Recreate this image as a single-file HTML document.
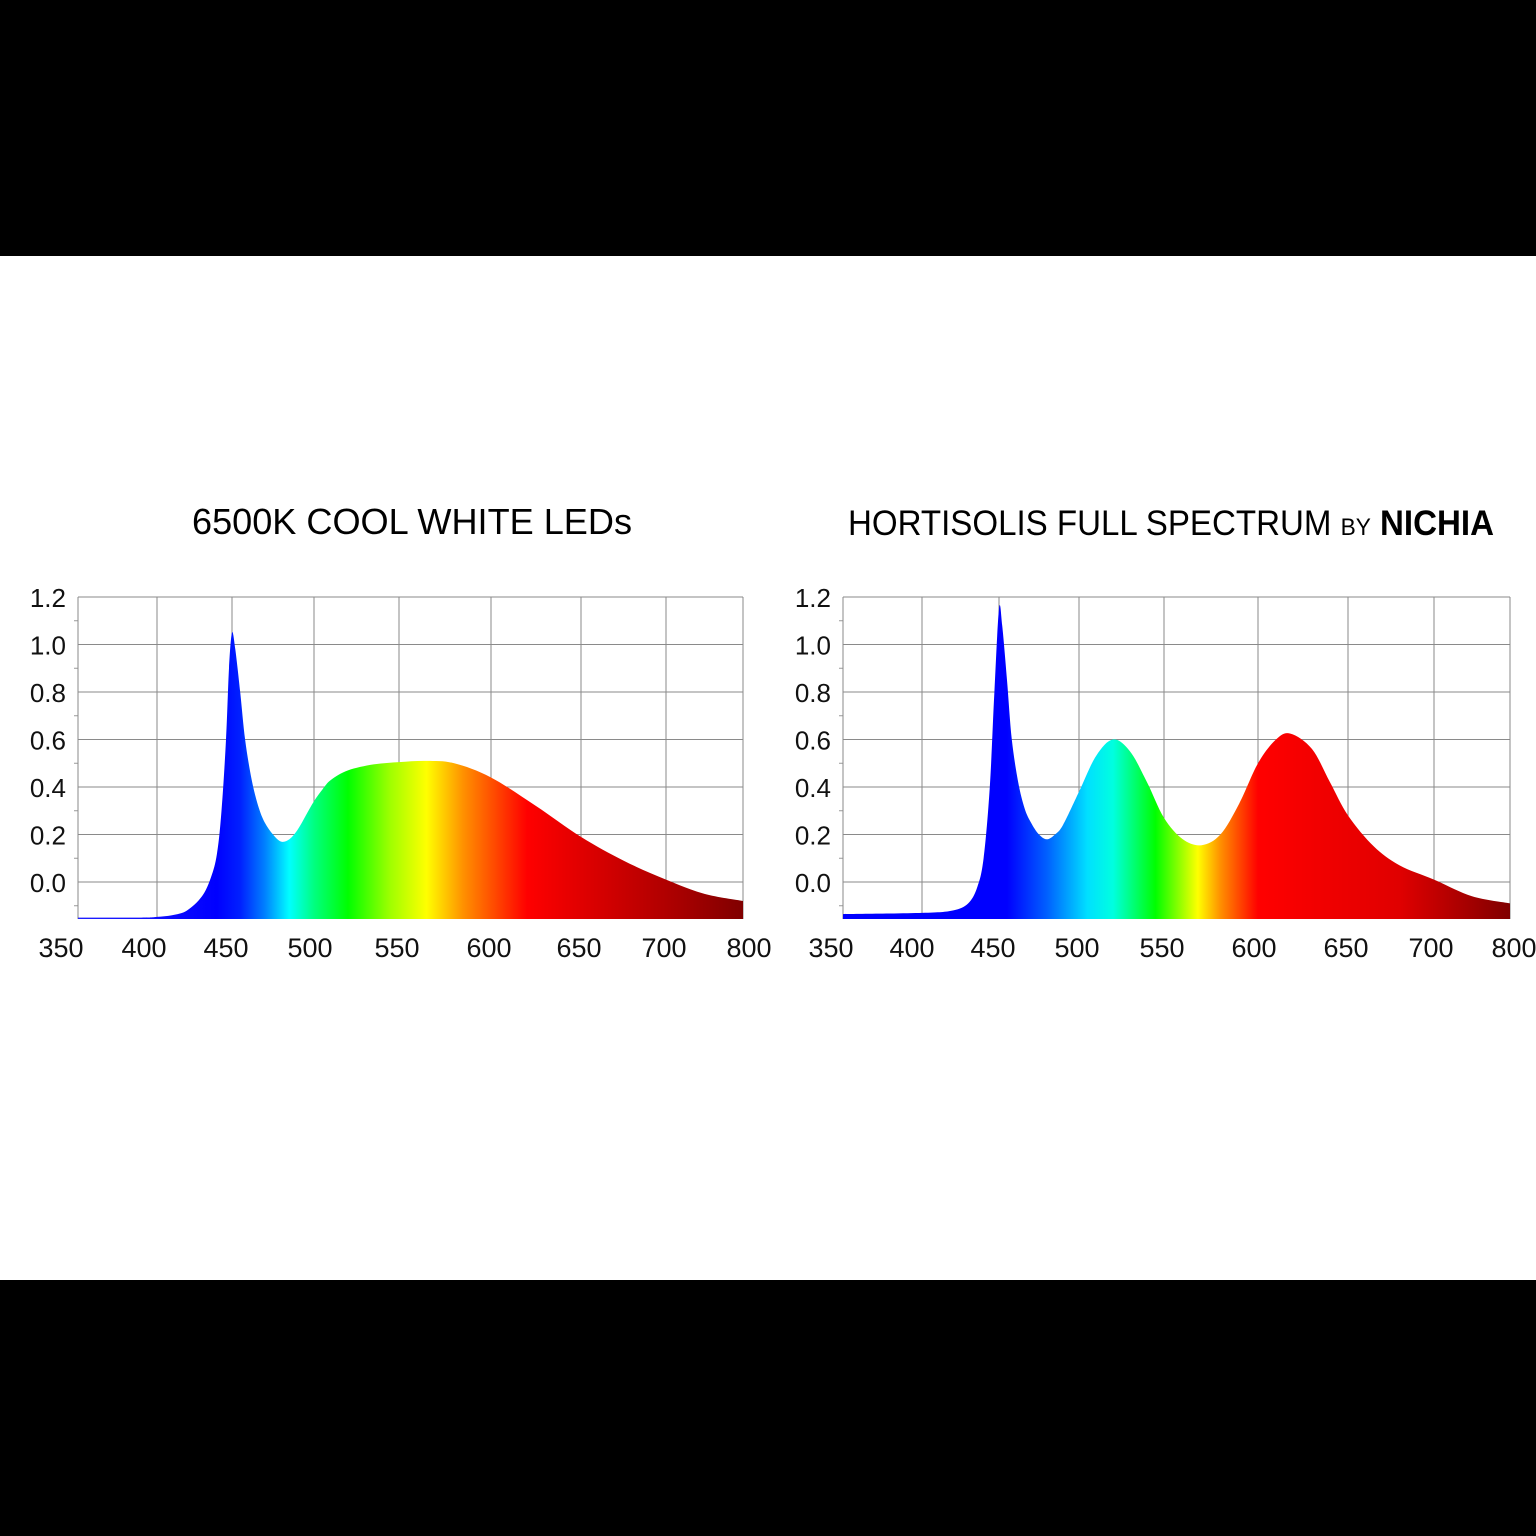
<!DOCTYPE html>
<html><head><meta charset="utf-8">
<style>
html,body{margin:0;padding:0;background:#fff;}
body{width:1536px;height:1536px;overflow:hidden;position:relative;font-family:"Liberation Sans",sans-serif;}
.bar{position:absolute;left:0;width:1536px;background:#000;}
</style></head>
<body>
<div class="bar" style="top:0;height:256px"></div>
<div class="bar" style="top:1280px;height:256px"></div>
<svg id="svg" width="1536" height="1536" style="position:absolute;left:0;top:0">
<defs>
<linearGradient id="gL" gradientUnits="userSpaceOnUse" x1="78" y1="0" x2="743" y2="0"></linearGradient>
<linearGradient id="gR" gradientUnits="userSpaceOnUse" x1="843" y1="0" x2="1510" y2="0"></linearGradient>
</defs>
<text x="192" y="534" textLength="440" lengthAdjust="spacingAndGlyphs" font-size="36" font-family="Liberation Sans, sans-serif" fill="#000">6500K COOL WHITE LEDs</text>
<text x="848" y="535" textLength="646" lengthAdjust="spacingAndGlyphs" font-size="35" font-family="Liberation Sans, sans-serif" fill="#000">HORTISOLIS FULL SPECTRUM <tspan font-size="24">BY</tspan> <tspan font-weight="bold">NICHIA</tspan></text>
</svg>
<script>
const waveTicks=[350,400,450,500,550,600,650,700,800];
const yTicks=[0.0,0.2,0.4,0.6,0.8,1.0,1.2];
const yTickLabels=["0.0","0.2","0.4","0.6","0.8","1.0","1.2"];
const coolWL=[350,390,400,410,420,430,436,440,443,446,448,450,452,455,458,462,466,470,475,480,485,490,495,500,505,510,520,535,550,565,580,600,625,650,675,700,750,800];
const coolVal=[-0.15,-0.15,-0.147,-0.14,-0.12,-0.06,0.02,0.12,0.3,0.6,0.9,1.05,0.98,0.8,0.6,0.43,0.32,0.25,0.2,0.17,0.18,0.22,0.28,0.34,0.39,0.43,0.47,0.495,0.505,0.51,0.5,0.44,0.32,0.19,0.09,0.01,-0.05,-0.08];
const hortWL=[350,400,420,430,436,440,444,447,450,452,455,458,462,466,470,475,480,485,490,500,510,520,530,540,550,560,570,580,590,600,610,618,630,640,650,665,680,700,750,800];
const hortVal=[-0.135,-0.13,-0.12,-0.09,-0.02,0.1,0.4,0.8,1.15,1.08,0.85,0.6,0.42,0.31,0.25,0.2,0.18,0.2,0.24,0.38,0.53,0.6,0.55,0.42,0.27,0.18,0.155,0.2,0.33,0.5,0.6,0.625,0.56,0.42,0.28,0.15,0.07,0.01,-0.06,-0.09];
const coolStops=[[350,"#2020ff"],[440,"#0000ff"],[455,"#0020ff"],[470,"#0080ff"],[485,"#00ffff"],[500,"#00ff80"],[520,"#00ff00"],[545,"#a0ff00"],[565,"#ffff00"],[585,"#ff9000"],[620,"#ff0000"],[700,"#b00000"],[800,"#800000"]];
const hortStops=[[350,"#0000ff"],[455,"#0000ff"],[480,"#0060ff"],[505,"#00e0ff"],[520,"#00ffe0"],[545,"#00ff00"],[568,"#ffff00"],[580,"#ff9000"],[600,"#ff0000"],[680,"#e00000"],[800,"#800000"]];

const NS="http://www.w3.org/2000/svg";
const svg=document.getElementById('svg');
function mk(t,a,p){const e=document.createElementNS(NS,t);for(const k in a)e.setAttribute(k,a[k]);(p||svg).appendChild(e);return e;}

function chart(cfg){
  const px=cfg.gridX;
  function xs(w){for(let i=0;i<waveTicks.length-1;i++){if(w<=waveTicks[i+1]){const t=(w-waveTicks[i])/(waveTicks[i+1]-waveTicks[i]);return px[i]+t*(px[i+1]-px[i]);}}return px[px.length-1];}
  function ys(v){return 882-v*(882-597)/1.2;}
  const bottom=919;
  const g=mk('g',{});
  
  
  const grad=document.getElementById(cfg.grad);
  cfg.stops.forEach(s=>{mk('stop',{offset:((xs(s[0])-px[0])/(px[px.length-1]-px[0])).toFixed(4),'stop-color':s[1]},grad);});
  yTicks.forEach((v,i)=>{
    const l=mk('line',{x1:px[0],x2:px[px.length-1],y1:ys(v),y2:ys(v),stroke:'#8a8a8a','stroke-width':1},g);
    
    
    const t=mk('text',{x:px[0]-12,y:ys(v)+10,'text-anchor':'end','font-size':26,fill:'#111'},g);
    t.textContent=yTickLabels[i];
    
    
  });
  for(let v=-0.1;v<1.2;v+=0.2){const m=mk('line',{x1:px[0]-4,x2:px[0],y1:ys(v),y2:ys(v),stroke:'#999'},g);
    
    }
  waveTicks.forEach((w,i)=>{
    const l=mk('line',{x1:xs(w),x2:xs(w),y1:597,y2:bottom,stroke:'#8a8a8a','stroke-width':1},g);
    
    
    const t=mk('text',{x:cfg.labelX[i],y:957,'text-anchor':'middle','font-size':27,fill:'#111'},g);
    t.textContent=String(w);
    
    
  });
  const pts=cfg.wl.map((w,i)=>[xs(w),ys(cfg.val[i])]);
  let d='M'+pts[0][0]+','+bottom+' L'+pts[0][0].toFixed(1)+','+pts[0][1].toFixed(1);
  for(let i=0;i<pts.length-1;i++){
    const p0=pts[Math.max(0,i-1)],p1=pts[i],p2=pts[i+1],p3=pts[Math.min(pts.length-1,i+2)];
    const c1=[p1[0]+(p2[0]-p0[0])/6,p1[1]+(p2[1]-p0[1])/6];
    const c2=[p2[0]-(p3[0]-p1[0])/6,p2[1]-(p3[1]-p1[1])/6];
    d+=' C'+c1[0].toFixed(1)+','+c1[1].toFixed(1)+' '+c2[0].toFixed(1)+','+c2[1].toFixed(1)+' '+p2[0].toFixed(1)+','+p2[1].toFixed(1);
  }
  d+=' L'+pts[pts.length-1][0]+','+bottom+' Z';
  const a=mk('path',{d:d,fill:'url(#'+cfg.grad+')'},g);
  
  
}
chart({name:'cool-white-chart',grad:'gL',wl:coolWL,val:coolVal,stops:coolStops,
  gridX:[78,157,232,314,399,491,581,666,743],labelX:[61,144,226,310,397,489,579,664,749]});
chart({name:'hortisolis-chart',grad:'gR',wl:hortWL,val:hortVal,stops:hortStops,
  gridX:[843,922,999,1079,1164,1258,1348,1434,1510],labelX:[831,912,993,1077,1162,1254,1346,1431,1514]});
</script>
</body></html>
